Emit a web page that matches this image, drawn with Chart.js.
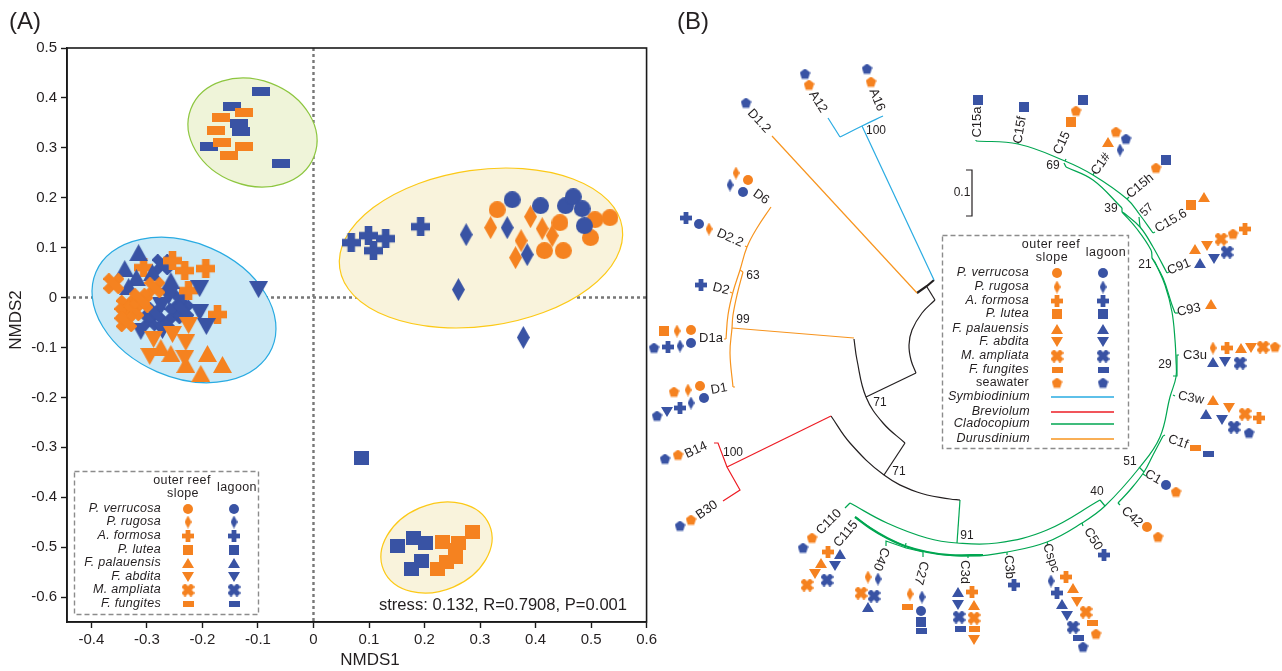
<!DOCTYPE html>
<html>
<head>
<meta charset="utf-8">
<title>NMDS and ITS2 tree</title>
<script src="https://cdn.jsdelivr.net/npm/chart.js@4"></script>
<style>
  html, body { margin: 0; padding: 0; background: #fff; }
  #wrap { position: relative; width: 1282px; height: 671px; overflow: hidden; }
  canvas { position: absolute; top: 0; }
  #chartA { left: 0; }
  #chartB { left: 640px; }
</style>
</head>
<body>
<div id="wrap">
  <canvas id="chartA" width="660" height="671"></canvas>
  <canvas id="chartB" width="642" height="671"></canvas>
</div>
<script>
const ORANGE = "#f58220";
const BLUE = "#3953a4";
const FONT = '"Liberation Sans", Arial, sans-serif';

// panel A axes
const xTicks = [-0.4, -0.3, -0.2, -0.1, 0, 0.1, 0.2, 0.3, 0.4, 0.5, 0.6];
const yTicks = [0.5, 0.4, 0.3, 0.2, 0.1, 0, -0.1, -0.2, -0.3, -0.4, -0.5, -0.6];

// panel A points, [NMDS1, NMDS2]
const verrucosaOuter = [[.331,.176],[.444,.150],[.507,.156],[.534,.160],[.499,.120],[.416,.094],[.450,.094]];
const verrucosaLagoon = [[.358,.196],[.409,.184],[.454,.184],[.468,.202],[.484,.178],[.488,.144]];
const rugosaOuter = [[.319,.140],[.391,.162],[.412,.138],[.430,.124],[.374,.114],[.364,.080]];
const rugosaLagoon = [[.275,.126],[.349,.140],[.385,.086],[.261,.016],[.378,-.080]];
const formosaOuter = [[-.254,.074],[-.232,.054],[-.194,.058],[-.306,.060],[-.225,.014],[-.173,-.034]];
const formosaLagoon = [[.068,.110],[.099,.124],[.130,.118],[.108,.094],[.193,.142]];
const luteaOuter = [[.286,-.470],[.232,-.490],[.261,-.492],[.256,-.506],[.256,-.520],[.239,-.530],[.223,-.544]];
const luteaLagoon = [[.086,-.322],[.151,-.498],[.180,-.482],[.202,-.492],[.194,-.528],[.176,-.544]];
const palauensisOuter = [[-.275,-.100],[-.257,-.112],[-.230,-.134],[-.191,-.112],[-.164,-.134],[-.203,-.152]];
const palauensisLagoon = [[-.315,.090],[-.340,.058],[-.319,.040],[-.333,.022],[-.290,.050],[-.257,.034]];
const abditaOuter = [[-.225,-.056],[-.288,-.084],[-.254,-.074],[-.230,-.090],[-.295,-.118],[-.232,-.122]];
const abditaLagoon = [[-.099,.016],[-.205,.018],[-.261,.002],[-.274,-.016],[-.205,-.030],[-.193,-.058],[-.311,-.068],[-.272,-.066]];
const ampliataOuter = [[-.360,.028],[-.286,.020],[-.337,-.016],[-.308,-.010],[-.340,-.032],[-.324,-.026],[-.337,-.048],[-.313,-.002]];
const ampliataLagoon = [[-.272,.066],[-.239,-.006],[-.250,-.032],[-.295,-.046],[-.265,-.052],[-.286,-.030],[-.234,-.026]];
const fungitesOuter = [[-.126,.370],[-.167,.360],[-.175,.334],[-.164,.310],[-.126,.302],[-.153,.284]];
const fungitesLagoon = [[-.094,.412],[-.146,.382],[-.135,.348],[-.130,.332],[-.189,.302],[-.059,.268]];

// legend rows
const speciesNames = ["P. verrucosa", "P. rugosa", "A. formosa", "P. lutea", "F. palauensis", "F. abdita", "M. ampliata", "F. fungites"];
const speciesShapes = ["circle", "diamond", "plus", "rect", "up", "down", "x", "bar"];
const cladeNames = ["Symbiodinium", "Breviolum", "Cladocopium", "Durusdinium"];

// panel B tree, read in picture units
const treeBlueArcs = [[[840,137],[862,126],[883,116]]];
const treeBlueLines = [[[862,126],[934,280]], [[828,118],[840,137]]];
const treeRedLines = [[[831,416],[727,467]], [[714,443],[718,443],[727,467],[740,490],[723,501]]];
const treeOrangeArcs = [
  [[771,207],[757,228],[747,247],[740,270],[733,292],[728,315],[726,339]],
  [[743,272],[737,295],[733,315],[732,328],[730,353],[733,387]]
];
const treeOrangeLines = [
  [[772,136],[917,293]], [[854,338],[732,328]], [[740,270],[743,272]],
  [[726,339],[724,339]], [[733,387],[735,387]], [[747,247],[745,246]], [[732,293],[730,292]]
];
const treeBlackArcs = [
  [[935,300],[922,313],[912,330],[909,345],[911,360],[916,373]],
  [[854,339],[857,360],[866,397],[883,423],[905,443]],
  [[831,416],[850,443],[884,475],[917,492],[950,499],[960,500]]
];
const treeBlackLines = [[[927,287],[935,300]], [[916,373],[866,397]], [[905,443],[884,475]]];
const treeBlackThick = [[[917,293],[927,286],[934,280]]];
const treeGreenArcs = [
  [[976,141],[1018,144],[1065,161],[1093,175],[1127,199],[1140,215],[1153,233]],
  [[1066,167],[1093,180],[1122,208]],
  [[1124,213],[1140,227],[1153,247],[1167,273]],
  [[1122,212],[1137,229],[1151,250],[1152,258]],
  [[1152,258],[1163,278],[1172,305],[1175,313]],
  [[1155,262],[1165,285],[1172,312],[1175,340],[1176,360],[1176,377],[1170,397],[1160,437],[1140,467],[1105,506],[1082,523],[1047,542],[1007,552],[973,556],[927,552],[887,538],[855,517]],
  [[1163,436],[1153,455],[1144,472],[1130,490],[1118,503]],
  [[850,503],[887,523],[927,538],[957,543],[997,543],[1047,530],[1100,500]]
];
const treeGreenThick = [[[855,517],[870,528],[887,538],[905,546],[927,552],[950,555],[983,555]]];
const treeGreenLines = [
  [[960,500],[957,543]], [[845,508],[850,503]], [[1100,500],[1105,506]],
  [[1064,163],[1066,167]], [[1122,208],[1122,212]], [[1122,212],[1124,213]],
  [[1139,217],[1140,227]], [[1152,258],[1155,262]], [[1179,355],[1177,355],[1177,376],[1173,376]],
  [[1139,467],[1144,472]], [[1163,436],[1165,435]], [[1118,503],[1120,505]],
  [[886,546],[886,541],[906,548],[923,552],[923,557]], [[906,543],[905,548]],
  [[976,141],[976,140]], [[1018,144],[1018,142]], [[1065,161],[1066,159]], [[1093,175],[1094,173]],
  [[1127,199],[1129,197]], [[1153,233],[1155,232]], [[1167,273],[1169,272]], [[1175,313],[1178,313]],
  [[1173,395],[1175,396]], [[1143,474],[1146,476]], [[1082,523],[1083,526]], [[1047,542],[1048,545]],
  [[1007,552],[1007,555]], [[968,555],[968,558]]
];

// panel B tip markers, read in picture units
const tipCircleOuter = [[748,180],[691,330],[700,386],[1147,527]];
const tipCircleLagoon = [[743,192],[699,224],[691,343],[704,398],[921,611],[1166,485]];
const tipDiamondOuter = [[736,173],[709,229],[677,331],[688,390],[868,577],[910,594],[1213,348]];
const tipDiamondLagoon = [[730,185],[680,346],[691,403],[878,579],[922,597],[1051,581],[1120,150]];
const tipPlusOuter = [[828,552],[972,592],[1066,577],[1259,418],[1227,348],[1245,229]];
const tipPlusLagoon = [[686,218],[701,285],[668,347],[680,408],[1014,585],[1057,593],[1104,555]];
const tipRectOuter = [[664,331],[1191,205],[1071,122]];
const tipRectLagoon = [[921,622],[1166,160],[1083,100],[1024,107],[978,100]];
const tipUpOuter = [[821,563],[974,605],[1073,588],[1213,400],[1241,348],[1211,304],[1195,249],[1204,197],[1108,142]];
const tipUpLagoon = [[840,554],[868,607],[958,592],[1062,604],[1206,414],[1213,362],[1200,263]];
const tipDownOuter = [[815,574],[974,640],[1077,602],[1229,408],[1251,348],[1207,246]];
const tipDownLagoon = [[667,412],[835,566],[958,605],[1067,616],[1222,420],[1225,362],[1214,259]];
const tipXOuter = [[807,585],[861,593],[974,618],[1086,612],[1245,414],[1263,347],[1221,239]];
const tipXLagoon = [[827,580],[874,596],[959,617],[1073,627],[1234,427],[1240,363],[1227,252]];
const tipBarOuter = [[907,607],[974,629],[1092,623],[1195,448]];
const tipBarLagoon = [[921,631],[960,629],[1078,638],[1208,454]];
const tipPentOuter = [[809,85],[871,82],[674,392],[678,455],[691,520],[812,538],[1096,634],[1158,537],[1176,492],[1275,347],[1233,234],[1156,168],[1116,132],[1076,111]];
const tipPentLagoon = [[805,74],[867,69],[746,103],[654,348],[657,416],[665,459],[680,526],[803,548],[1083,647],[1249,433],[1126,139]];

// text on the tree: label, x, y, rotation
const tipLabels = [
  ["D1.2",759,121,47],["A12",818,102,58],["A16",877,100,68],["D6",761,197,35],["D2.2",730,238,24],
  ["D2",721,289,14],["D1a",711,338,0],["D1",719,389,-10],["B14",696,450,-25],["B30",707,510,-35],
  ["C110",829,522,-45],["C115",846,534,-50],["C40",881,559,112],["C27",921,573,105],["C3d",965,572,90],
  ["C3b",1009,567,85],["Cspc",1051,558,72],["C50",1093,539,58],["C42",1132,517,42],["C1",1153,477,30],
  ["C1f",1178,442,20],["C3w",1191,398,10],["C3u",1195,355,0],["C93",1189,310,-12],["C91",1179,267,-22],
  ["C15.6",1171,221,-30],["C15h",1140,186,-40],["C1#",1101,164,-55],["C15",1062,143,-65],["C15f",1020,130,-80],["C15a",977,122,-90]
];
const supportLabels = [
  ["100",876,131,0],["63",753,276,0],["99",743,320,0],["100",733,453,0],["71",880,403,0],["71",899,472,0],
  ["69",1053,166,0],["39",1111,209,0],["57",1147,210,-45],["21",1145,265,0],["29",1165,365,0],["51",1130,462,0],["40",1097,492,0],["91",967,536,0]
];
const scaleBar = [[966,170],[972,170],[972,216],[966,216]];

// markers are small canvases so the library can use them as point styles
function marker(shape, color, w, h) {
  const c = document.createElement("canvas");
  c.width = w; c.height = h;
  const g = c.getContext("2d");
  g.fillStyle = color;
  const poly = pts => { g.beginPath(); pts.forEach((p, i) => i ? g.lineTo(p[0], p[1]) : g.moveTo(p[0], p[1])); g.closePath(); g.fill(); };
  if (shape === "circle") { g.beginPath(); g.arc(w/2, h/2, w/2, 0, Math.PI*2); g.fill(); }
  if (shape === "diamond") poly([[w/2,0],[w,h/2],[w/2,h],[0,h/2]]);
  if (shape === "rect" || shape === "bar") g.fillRect(0, 0, w, h);
  if (shape === "up") poly([[w/2,0],[w,h],[0,h]]);
  if (shape === "down") poly([[0,0],[w,0],[w/2,h]]);
  if (shape === "plus") { const t = w*0.4; g.fillRect((w-t)/2, 0, t, h); g.fillRect(0, (h-t)/2, w, t); }
  if (shape === "x") {
    g.translate(w/2, h/2); g.rotate(Math.PI/4);
    const len = w*1.06, t = w*0.42;
    g.fillRect(-t/2, -len/2, t, len); g.fillRect(-len/2, -t/2, len, t);
  }
  if (shape === "pent") {
    const pts = [];
    for (let i = 0; i < 5; i++) { const a = -Math.PI/2 + i*2*Math.PI/5; pts.push([w/2 + w/2*Math.cos(a), h*0.52 + h*0.52*Math.sin(a)]); }
    poly(pts);
  }
  return c;
}
const bigSize = { circle:[17,17], diamond:[13,23], plus:[19,19], rect:[15,14], up:[19,17], down:[19,17], x:[21,21], bar:[18,9] };
const smallSize = { circle:[10,10], diamond:[7,13], plus:[12,12], rect:[10,10], up:[12,10], down:[12,10], x:[13,13], bar:[11,6], pent:[11,11] };
const mark = (shape, color, sizes) => marker(shape, color, sizes[shape][0], sizes[shape][1]);
const xy = list => list.map(p => ({ x: p[0], y: p[1] }));
const points = (list, shape, color, sizes) => ({
  data: xy(list), showLine: false, pointStyle: mark(shape, color, sizes), pointRadius: 8, clip: false
});
const branch = (list, color, width, tension) => ({
  data: xy(list), showLine: true, fill: false, borderColor: color, borderWidth: width, tension: tension,
  pointRadius: 0, clip: false
});

function text(ctx, str, x, y, font, opt) {
  opt = opt || {};
  ctx.save();
  ctx.translate(x, y);
  if (opt.rot) ctx.rotate(opt.rot * Math.PI / 180);
  ctx.font = font;
  ctx.fillStyle = opt.color || "#231f20";
  ctx.textAlign = opt.align || "center";
  ctx.textBaseline = "middle";
  if (opt.spacing) ctx.letterSpacing = opt.spacing;
  ctx.fillText(str, 0, 0);
  ctx.restore();
}
function dashedBox(ctx, x0, y0, x1, y1) {
  ctx.save();
  ctx.strokeStyle = "#8c8c8c"; ctx.lineWidth = 1.4; ctx.setLineDash([5, 3]);
  ctx.strokeRect(x0 + .5, y0 + .5, x1 - x0, y1 - y0);
  ctx.restore();
}
function stamp(ctx, shape, color, x, y) {
  const s = smallSize[shape];
  ctx.drawImage(mark(shape, color, smallSize), x - s[0]/2, y - s[1]/2);
}

// [x px, y px, radius a, radius b, angle deg, fill, stroke]
const ellipses = [
  [252.5, 132.5, 66, 52.6, 20.8, "#eff4d9", "#8dc63f"],
  [184, 310, 95.9, 67.4, 23.4, "#cce9f6", "#29abe2"],
  [481, 248, 142.7, 78.2, -8.15, "#f9f3dc", "#fcc917"],
  [436.5, 547.5, 57.5, 43, -23, "#f9f3dc", "#fcc917"]
];

const panelA = {
  id: "panelA",
  beforeDatasetsDraw(chart) {
    const ctx = chart.ctx, a = chart.chartArea;
    const x0 = chart.scales.x.getPixelForValue(0), y0 = chart.scales.y.getPixelForValue(0);
    ctx.save();
    ctx.strokeStyle = "#777"; ctx.lineWidth = 2.4; ctx.setLineDash([3, 3]);
    ctx.beginPath(); ctx.moveTo(x0, a.top); ctx.lineTo(x0, a.bottom); ctx.moveTo(a.left, y0); ctx.lineTo(a.right, y0); ctx.stroke();
    ctx.setLineDash([]);
    ellipses.forEach(e => {
      ctx.beginPath(); ctx.ellipse(e[0], e[1], e[2], e[3], e[4]*Math.PI/180, 0, Math.PI*2);
      ctx.fillStyle = e[5]; ctx.fill();
      ctx.strokeStyle = e[6]; ctx.lineWidth = 1.2; ctx.stroke();
    });
    ctx.restore();
  },
  afterDraw(chart) {
    const ctx = chart.ctx, a = chart.chartArea;
    ctx.save();
    ctx.strokeStyle = "#1a1a1a"; ctx.lineWidth = 1.6;
    ctx.strokeRect(a.left, a.top, a.right - a.left, a.bottom - a.top);
    ctx.restore();
    text(ctx, "(A)", 25, 22, "24px " + FONT);
    text(ctx, "NMDS1", 370, 660, "17px " + FONT);
    text(ctx, "NMDS2", 16, 320, "17px " + FONT, { rot: -90 });
    text(ctx, "stress: 0.132, R=0.7908, P=0.001", 503, 605, "16.6px " + FONT);
    dashedBox(ctx, 74, 471, 258, 614);
    const f = "12.5px " + FONT, fi = "italic 12.5px " + FONT;
    text(ctx, "outer reef", 182, 481, f, { spacing: ".4px" });
    text(ctx, "slope", 183, 494, f, { spacing: ".4px" });
    text(ctx, "lagoon", 237, 488, f, { spacing: ".4px" });
    const rows = [509, 522, 536, 550, 563, 577, 590, 604];
    speciesNames.forEach((n, i) => {
      text(ctx, n, 161, rows[i], fi, { align: "right", spacing: ".3px" });
      stamp(ctx, speciesShapes[i], ORANGE, 188, rows[i]);
      stamp(ctx, speciesShapes[i], BLUE, 234, rows[i]);
    });
  }
};

// first dataset ends up on top
const scatterSets = [
  points(abditaOuter, "down", ORANGE, bigSize),
  points(palauensisOuter, "up", ORANGE, bigSize),
  points(ampliataOuter, "x", ORANGE, bigSize),
  points(palauensisLagoon, "up", BLUE, bigSize),
  points(abditaLagoon, "down", BLUE, bigSize),
  points(formosaOuter, "plus", ORANGE, bigSize),
  points(ampliataLagoon, "x", BLUE, bigSize),
  points(verrucosaLagoon, "circle", BLUE, bigSize),
  points(verrucosaOuter, "circle", ORANGE, bigSize),
  points(rugosaLagoon, "diamond", BLUE, bigSize),
  points(rugosaOuter, "diamond", ORANGE, bigSize),
  points(formosaLagoon, "plus", BLUE, bigSize),
  points(luteaOuter, "rect", ORANGE, bigSize),
  points(luteaLagoon, "rect", BLUE, bigSize),
  points(fungitesOuter, "bar", ORANGE, bigSize),
  points(fungitesLagoon, "bar", BLUE, bigSize)
];

const axisCommon = {
  grid: { display: true, drawOnChartArea: false, drawTicks: true, tickLength: 6, tickColor: "#1a1a1a", tickWidth: 1.4 },
  border: { display: true, color: "#1a1a1a", width: 1.6 }
};
new Chart(document.getElementById("chartA"), {
  type: "scatter",
  data: { datasets: scatterSets },
  options: {
    responsive: false, animation: false, events: [],
    layout: { autoPadding: false, padding: { top: 48, right: 12, left: 0, bottom: 0 } },
    plugins: { legend: { display: false }, tooltip: { enabled: false } },
    scales: {
      x: Object.assign({}, axisCommon, {
        type: "linear", min: -0.444, max: 0.6,
        afterBuildTicks: s => { s.ticks = xTicks.map(v => ({ value: v })); },
        afterFit: s => { s.height = 49; },
        ticks: { autoSkip: false, maxRotation: 0, padding: 3, color: "#231f20", font: { family: "Liberation Sans", size: 15 },
                 callback: v => v === 0 ? "0" : v.toFixed(1) }
      }),
      y: Object.assign({}, axisCommon, {
        type: "linear", min: -0.65, max: 0.5,
        afterBuildTicks: s => { s.ticks = yTicks.map(v => ({ value: v })); },
        afterFit: s => { s.width = 67; },
        ticks: { autoSkip: false, padding: 4, color: "#231f20", font: { family: "Liberation Sans", size: 15 },
                 callback: v => v === 0 ? "0" : v.toFixed(1) }
      })
    }
  },
  plugins: [panelA]
});

const SKY = "#29abe2", RED = "#ed1c24", GREEN = "#00a651", DUR = "#f7941e", BLACK = "#231f20";
const treeSets = [];
treeBlueArcs.forEach(b => treeSets.push(branch(b, SKY, 1.2, .4)));
treeBlueLines.forEach(b => treeSets.push(branch(b, SKY, 1.2, 0)));
treeRedLines.forEach(b => treeSets.push(branch(b, RED, 1.2, 0)));
treeOrangeArcs.forEach(b => treeSets.push(branch(b, DUR, 1.2, .4)));
treeOrangeLines.forEach(b => treeSets.push(branch(b, DUR, 1.2, 0)));
treeBlackArcs.forEach(b => treeSets.push(branch(b, BLACK, 1.2, .4)));
treeBlackLines.forEach(b => treeSets.push(branch(b, BLACK, 1.2, 0)));
treeBlackThick.forEach(b => treeSets.push(branch(b, BLACK, 2.2, 0)));
treeGreenArcs.forEach(b => treeSets.push(branch(b, GREEN, 1.2, .4)));
treeGreenThick.forEach(b => treeSets.push(branch(b, GREEN, 2.2, .4)));
treeGreenLines.forEach(b => treeSets.push(branch(b, GREEN, 1.2, 0)));
treeSets.push(branch(scaleBar, BLACK, 1.2, 0));
[
  [tipCircleOuter,"circle",ORANGE],[tipCircleLagoon,"circle",BLUE],[tipDiamondOuter,"diamond",ORANGE],[tipDiamondLagoon,"diamond",BLUE],
  [tipPlusOuter,"plus",ORANGE],[tipPlusLagoon,"plus",BLUE],[tipRectOuter,"rect",ORANGE],[tipRectLagoon,"rect",BLUE],
  [tipUpOuter,"up",ORANGE],[tipUpLagoon,"up",BLUE],[tipDownOuter,"down",ORANGE],[tipDownLagoon,"down",BLUE],
  [tipXOuter,"x",ORANGE],[tipXLagoon,"x",BLUE],[tipBarOuter,"bar",ORANGE],[tipBarLagoon,"bar",BLUE],
  [tipPentOuter,"pent",ORANGE],[tipPentLagoon,"pent",BLUE]
].forEach(t => treeSets.push(points(t[0], t[1], t[2], smallSize)));

const panelB = {
  id: "panelB",
  afterDraw(chart) {
    const ctx = chart.ctx, sx = chart.scales.x, sy = chart.scales.y;
    const px = v => sx.getPixelForValue(v), py = v => sy.getPixelForValue(v);
    text(ctx, "(B)", px(693), py(22), "24px " + FONT);
    tipLabels.forEach(l => text(ctx, l[0], px(l[1]), py(l[2]), "13px " + FONT, { rot: l[3] }));
    supportLabels.forEach(l => text(ctx, l[0], px(l[1]), py(l[2]), "12px " + FONT, { rot: l[3] }));
    text(ctx, "0.1", px(962), py(193), "12px " + FONT);

    dashedBox(ctx, px(942), py(235), px(1128), py(448));
    const f = "12.5px " + FONT, fi = "italic 12.5px " + FONT;
    text(ctx, "outer reef", px(1051), py(245), f, { spacing: ".5px" });
    text(ctx, "slope", px(1052), py(258), f, { spacing: ".5px" });
    text(ctx, "lagoon", px(1106), py(253), f, { spacing: ".5px" });
    const rows = [273, 287, 301, 314, 329, 342, 356, 370];
    speciesNames.forEach((n, i) => {
      text(ctx, n, px(1029), py(rows[i]), fi, { align: "right", spacing: ".3px" });
      stamp(ctx, speciesShapes[i], ORANGE, px(1057), py(rows[i]));
      stamp(ctx, speciesShapes[i], BLUE, px(1103), py(rows[i]));
    });
    text(ctx, "seawater", px(1029), py(383), f, { align: "right", spacing: ".3px" });
    stamp(ctx, "pent", ORANGE, px(1057), py(383));
    stamp(ctx, "pent", BLUE, px(1103), py(383));
    const lineRows = [397, 412, 424, 439], lineColors = [SKY, RED, GREEN, DUR];
    cladeNames.forEach((n, i) => {
      text(ctx, n, px(1030), py(lineRows[i]), fi, { align: "right", spacing: ".3px" });
      ctx.save();
      ctx.strokeStyle = lineColors[i]; ctx.lineWidth = 1.4;
      ctx.beginPath(); ctx.moveTo(px(1051), py(lineRows[i])); ctx.lineTo(px(1114), py(lineRows[i])); ctx.stroke();
      ctx.restore();
    });
  }
};

new Chart(document.getElementById("chartB"), {
  type: "scatter",
  data: { datasets: treeSets },
  options: {
    responsive: false, animation: false, events: [],
    layout: { autoPadding: false, padding: 0 },
    plugins: { legend: { display: false }, tooltip: { enabled: false } },
    scales: {
      x: { type: "linear", display: false, min: 640, max: 1282 },
      y: { type: "linear", display: false, min: 0, max: 671, reverse: true }
    }
  },
  plugins: [panelB]
});
</script>
</body>
</html>
